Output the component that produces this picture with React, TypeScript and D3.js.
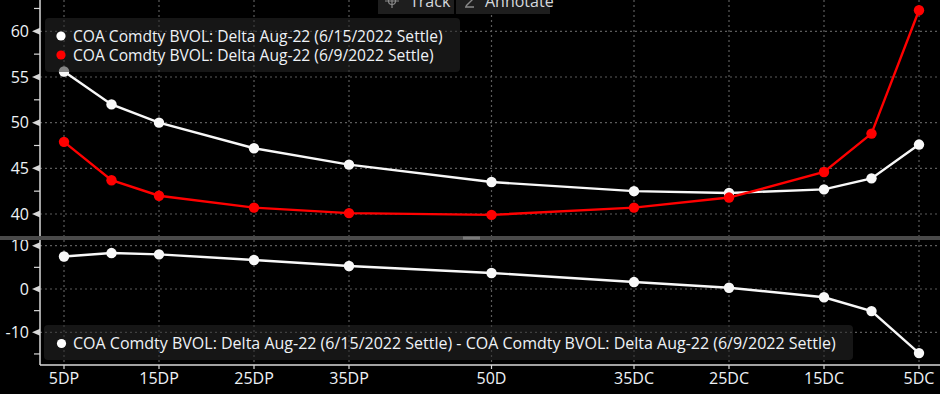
import React, { useEffect, useRef } from 'react';
import * as d3 from 'd3';

// x positions in delta space: puts on the left, calls mirrored on the right (35DC -> 65)
const deltas = [5, 10, 15, 25, 35, 50, 65, 75, 85, 90, 95];
const tickDeltas = [5, 15, 25, 35, 50, 65, 75, 85, 95];
const tickLabels = ['5DP', '15DP', '25DP', '35DP', '50D', '35DC', '25DC', '15DC', '5DC'];

const settle0615 = [55.6, 52.0, 50.0, 47.2, 45.4, 43.5, 42.5, 42.3, 42.7, 43.9, 47.6];
const settle0609 = [47.9, 43.7, 42.0, 40.7, 40.1, 39.9, 40.7, 41.8, 44.6, 48.8, 62.3];
const spread = [7.5, 8.3, 8.0, 6.7, 5.3, 3.7, 1.6, 0.3, -1.9, -5.1, -14.8];

const topTicks = [40, 45, 50, 55, 60];
const topMinor = [42.5, 47.5, 52.5, 57.5, 62.5];
const bottomTicks = [-10, 0, 10];
const bottomMinor = [-15, -5, 5];

const legendTop = [
    { label: 'COA Comdty BVOL: Delta Aug-22 (6/15/2022 Settle)', color: '#ffffff' },
    { label: 'COA Comdty BVOL: Delta Aug-22 (6/9/2022 Settle)', color: '#ff0000' }
];
const legendBottom = 'COA Comdty BVOL: Delta Aug-22 (6/15/2022 Settle) - COA Comdty BVOL: Delta Aug-22 (6/9/2022 Settle)';

const W = 940;
const H = 394;
const FONT = '"Open Sans", sans-serif';
const FS = '16px';
const TEXT = '#eef2f6';
const GRID = '#5c5c5c';
const AXIS = '#d8d8d8';

export default function App() {
    const svgRef = useRef<SVGSVGElement | null>(null);

    useEffect(() => {
        document.body.style.margin = '0';
        document.body.style.background = '#000';
        if (!svgRef.current) return;
        const svg = d3.select(svgRef.current);
        svg.selectAll('*').remove();

        const axisX = 40;
        const topPanel = { y0: 0, y1: 236 };
        const botPanel = { y0: 240, y1: 365 };

        const x = d3.scaleLinear().domain([5, 95]).range([64, 919]);
        const yTop = d3.scaleLinear().domain([40, 60]).range([214, 31.3]);
        const yBot = d3.scaleLinear().domain([-10, 10]).range([332.3, 245.7]);

        svg.append('rect').attr('width', W).attr('height', H).attr('fill', '#000');

        const defs = svg.append('defs');
        defs.append('clipPath').attr('id', 'clipTop').append('rect')
            .attr('x', axisX).attr('y', topPanel.y0).attr('width', W - axisX).attr('height', topPanel.y1 - topPanel.y0);
        defs.append('clipPath').attr('id', 'clipBot').append('rect')
            .attr('x', axisX).attr('y', botPanel.y0).attr('width', W - axisX).attr('height', botPanel.y1 - botPanel.y0);

        // vertical grid through both panels
        svg.append('g')
            .selectAll('line')
            .data(tickDeltas)
            .join('line')
            .attr('x1', d => x(d)).attr('x2', d => x(d))
            .attr('y1', 0).attr('y2', botPanel.y1)
            .attr('stroke', GRID).attr('stroke-width', 1.2).attr('stroke-dasharray', '2,3');

        // horizontal grid
        const hGrid = (ticks: number[], y: d3.ScaleLinear<number, number>) =>
            svg.append('g')
                .selectAll('line')
                .data(ticks)
                .join('line')
                .attr('x1', axisX).attr('x2', W)
                .attr('y1', d => y(d)).attr('y2', d => y(d))
                .attr('stroke', GRID).attr('stroke-width', 1.2).attr('stroke-dasharray', '2,3');
        hGrid(topTicks, yTop);
        hGrid(bottomTicks, yBot);

        // series
        const drawSeries = (vals: number[], y: d3.ScaleLinear<number, number>, color: string, clip: string) => {
            const g = svg.append('g').attr('clip-path', `url(#${clip})`);
            const line = d3.line<number>().x((_, i) => x(deltas[i])).y(d => y(d));
            g.append('path')
                .datum(vals)
                .attr('d', line)
                .attr('fill', 'none')
                .attr('stroke', color)
                .attr('stroke-width', 2.4);
            g.selectAll('circle')
                .data(vals)
                .join('circle')
                .attr('cx', (_, i) => x(deltas[i]))
                .attr('cy', d => y(d))
                .attr('r', 5.2)
                .attr('fill', color);
        };
        drawSeries(settle0615, yTop, '#f8f8f8', 'clipTop');
        drawSeries(settle0609, yTop, '#ff0000', 'clipTop');
        drawSeries(spread, yBot, '#f8f8f8', 'clipBot');

        // legends (semi transparent boxes)
        const topLeg = svg.append('g');
        topLeg.append('rect')
            .attr('x', 45).attr('y', 18).attr('width', 415).attr('height', 54).attr('rx', 4)
            .attr('fill', 'rgb(40,40,40)').attr('fill-opacity', 0.55);
        legendTop.forEach((item, i) => {
            topLeg.append('circle').attr('cx', 61).attr('cy', 36 + i * 19).attr('r', 4.6).attr('fill', item.color);
            topLeg.append('text')
                .attr('x', 73).attr('y', 42 + i * 19)
                .attr('fill', TEXT)
                .style('font-family', FONT).style('font-size', '15.6px')
                .text(item.label);
        });

        const botLeg = svg.append('g');
        botLeg.append('rect')
            .attr('x', 44).attr('y', 325).attr('width', 809).attr('height', 35).attr('rx', 4)
            .attr('fill', 'rgb(40,40,40)').attr('fill-opacity', 0.55);
        botLeg.append('circle').attr('cx', 61.5).attr('cy', 343.5).attr('r', 4.6).attr('fill', '#ffffff');
        botLeg.append('text')
            .attr('x', 73).attr('y', 349)
            .attr('fill', TEXT)
            .style('font-family', FONT).style('font-size', FS)
            .text(legendBottom);

        // y axes
        const yAxis = (ticks: number[], minor: number[], y: d3.ScaleLinear<number, number>, p: { y0: number; y1: number }) => {
            const g = svg.append('g');
            g.append('line').attr('x1', axisX).attr('x2', axisX).attr('y1', p.y0).attr('y2', p.y1)
                .attr('stroke', AXIS).attr('stroke-width', 1.5);
            g.selectAll('path.tri')
                .data(ticks)
                .join('path')
                .attr('d', d => `M${axisX},${y(d) - 3.5}L${axisX - 8},${y(d)}L${axisX},${y(d) + 3.5}Z`)
                .attr('fill', AXIS);
            g.selectAll('line.minor')
                .data(minor.filter(d => y(d) > p.y0 && y(d) < p.y1))
                .join('line')
                .attr('x1', axisX - 6).attr('x2', axisX)
                .attr('y1', d => y(d)).attr('y2', d => y(d))
                .attr('stroke', AXIS).attr('stroke-width', 1.2);
            g.selectAll('text')
                .data(ticks)
                .join('text')
                .attr('x', axisX - 11).attr('y', d => y(d))
                .attr('dy', '0.36em')
                .attr('text-anchor', 'end')
                .attr('fill', TEXT)
                .style('font-family', FONT).style('font-size', FS)
                .text(d => String(d));
        };
        yAxis(topTicks, topMinor, yTop, topPanel);
        yAxis(bottomTicks, bottomMinor, yBot, botPanel);

        // x axis
        const xg = svg.append('g');
        xg.append('line').attr('x1', axisX).attr('x2', W).attr('y1', botPanel.y1).attr('y2', botPanel.y1)
            .attr('stroke', AXIS).attr('stroke-width', 1.5);
        xg.selectAll('line.tick')
            .data(tickDeltas)
            .join('line')
            .attr('x1', d => x(d)).attr('x2', d => x(d))
            .attr('y1', botPanel.y1).attr('y2', botPanel.y1 + 4)
            .attr('stroke', AXIS).attr('stroke-width', 1.2);
        xg.selectAll('text')
            .data(tickDeltas)
            .join('text')
            .attr('x', d => x(d)).attr('y', 383.5)
            .attr('text-anchor', 'middle')
            .attr('fill', TEXT)
            .style('font-family', FONT).style('font-size', FS)
            .text((_, i) => tickLabels[i]);

        // panel divider
        svg.append('rect').attr('x', 0).attr('y', 236).attr('width', W).attr('height', 4).attr('fill', '#4a4a4a');
        svg.append('rect').attr('x', 463).attr('y', 236.5).attr('width', 17).attr('height', 3).attr('fill', '#7a7a7a');

        // toolbar (partly scrolled off the top, as in the reference)
        const tb = svg.append('g');
        tb.append('rect').attr('x', 378).attr('y', -4).attr('width', 76).attr('height', 18).attr('fill', '#1e1e1e');
        tb.append('rect').attr('x', 456).attr('y', -4).attr('width', 94).attr('height', 18).attr('fill', '#1e1e1e');
        tb.append('circle').attr('cx', 392).attr('cy', 1).attr('r', 3.5).attr('fill', 'none').attr('stroke', '#8a8a8a').attr('stroke-width', 1.2);
        tb.append('path').attr('d', 'M385,1H399M392,-6V8').attr('stroke', '#8a8a8a').attr('stroke-width', 1.2);
        tb.append('path').attr('d', 'M466,6L476,-4M465,7H474').attr('stroke', '#8a8a8a').attr('stroke-width', 1.4);
        tb.append('text').attr('x', 410).attr('y', 7).attr('fill', '#d4d8dc')
            .style('font-family', FONT).style('font-size', FS).text('Track');
        tb.append('text').attr('x', 485).attr('y', 7).attr('fill', '#d4d8dc')
            .style('font-family', FONT).style('font-size', FS).text('Annotate');
    }, []);

    return <svg ref={svgRef} width={W} height={H} style={{ display: 'block' }} />;
}
